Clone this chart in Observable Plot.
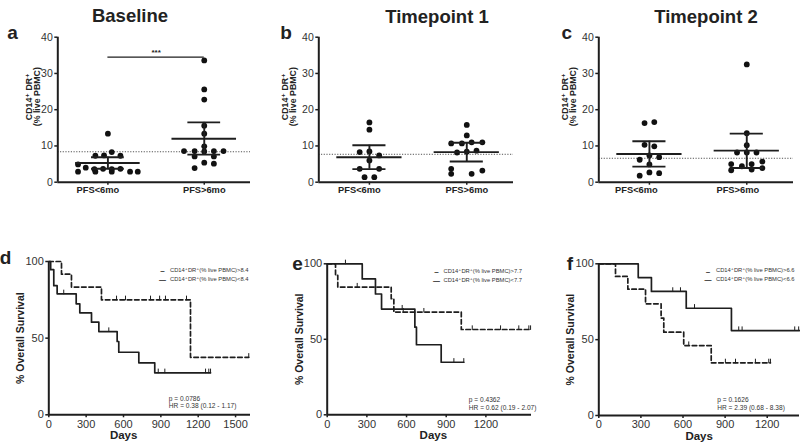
<!DOCTYPE html>
<html><head><meta charset="utf-8">
<script src="https://cdn.jsdelivr.net/npm/d3@7"></script>
<script src="https://cdn.jsdelivr.net/npm/@observablehq/plot@0.6"></script>
<style>
body{margin:0;background:#fff;}
#fig{position:relative;width:800px;height:445px;overflow:hidden;background:#fff;font-family:"Liberation Sans",Arial,"DejaVu Sans",sans-serif;color:#222;}
.panel{position:absolute;}
.lbl{position:absolute;transform:translate(-50%,-50%);line-height:1;font-weight:bold;white-space:nowrap;color:#222;}
</style></head><body><div id="fig"></div>
<script>
// ---------------- data ----------------
const groupNames = ["PFS<6mo", "PFS>6mo"];
const panelTitles = ["Baseline", "Timepoint 1", "Timepoint 2"];
const panelLetters = ["a", "b", "c", "d", "e", "f"];
const scatterYTicks = [0, 10, 20, 30, 40];
const scatterYLabel = ["CD14⁺ DR⁺", "(% live PBMC)"];
const thresholds = [8.4, 7.7, 6.6];

// Baseline
const aLowVals  = [13.4, 8.3, 7.3, 7.4, 7.3, 4.9, 4.0, 3.6, 3.7, 3.6, 3.7, 2.9, 2.9, 2.9, 2.9, 2.9];
const aLowJit   = [0, 0.04, -0.13, -0.04, 0.13, -0.31, -0.23, -0.14, -0.05, 0.04, 0.13, -0.31, -0.13, 0.04, 0.23, 0.31];
const aHighVals = [33.6, 25.6, 22.8, 15.6, 13.4, 9.9, 8.6, 8.6, 8.5, 8.6, 8.6, 7.1, 7.1, 5.4, 5.1, 3.9];
const aHighJit  = [0, 0, 0, 0, 0, 0, -0.21, -0.1, 0, 0.1, 0.2, -0.1, 0.1, 0, 0.1, -0.1];
const aMean = [5.3, 12.0], aLo = [3.7, 7.6], aHi = [6.9, 16.5];
const sigY = [34.5], sigText = ["***"];

// Timepoint 1
const bLowVals  = [16.5, 14.5, 8.3, 8.5, 7.4, 6.0, 3.7, 3.7, 1.4, 1.4];
const bLowJit   = [0, 0, -0.1, 0, 0.1, 0, -0.1, 0.1, -0.05, 0.05];
const bHighVals = [15.8, 12.9, 10.7, 10.7, 11.0, 11.0, 8.2, 8.4, 8.7, 3.7, 2.3, 2.3, 3.2];
const bHighJit  = [0, 0, -0.16, -0.05, 0.05, 0.16, -0.1, 0, 0.1, -0.16, -0.16, 0.05, 0.16];
const bMean = [6.9, 8.3], bLo = [3.6, 5.7], bHi = [10.2, 10.9];

// Timepoint 2
const cLowVals  = [16.3, 16.6, 10.3, 9.9, 7.4, 6.9, 6.2, 4.9, 1.8, 2.7, 2.5];
const cLowJit   = [-0.05, 0.05, -0.05, 0.05, 0, 0.1, -0.1, 0, -0.1, 0, 0.1];
const cHighVals = [32.5, 13.5, 10.2, 8.2, 8.2, 8.2, 5.0, 4.4, 5.0, 5.7, 3.3, 3.5, 3.9];
const cHighJit  = [0, 0, 0, -0.1, 0, 0.1, -0.16, -0.05, 0.05, 0.16, -0.16, 0.05, 0.16];
const cMean = [7.8, 8.7], cLo = [4.3, 3.9], cHi = [11.3, 13.4];

// Kaplan-Meier
const kmYTicks = [0, 50, 100];
const kmYLabel = "% Overall Survival";
const kmXLabel = "Days";
const dXTicks = [0, 300, 600, 900, 1200, 1500];
const efXTicks = [0, 300, 600, 900, 1200];

const dHiT = [0, 102, 182, 423, 1138, 1606];
const dHiS = [100, 91.7, 83.3, 75.0, 37.5, 37.5];
const dHiCT = [544, 616, 817, 890, 937, 1106, 1606];
const dHiCS = [75, 75, 75, 75, 75, 75, 37.5];
const dLoT = [0, 15, 40, 67, 220, 249, 343, 402, 549, 562, 723, 851, 1299];
const dLoS = [100, 94.7, 84.2, 78.9, 72.4, 66.5, 60.4, 54.3, 47.8, 40.8, 33.9, 27.4, 27.4];
const dLoCT = [120, 482, 879, 932, 1259, 1285, 1299];
const dLoCS = [78.9, 54.3, 27.4, 27.4, 27.4, 27.4, 27.4];
const dLegend = ["CD14⁺DR⁺(% live PBMC)>8.4", "CD14⁺DR⁺(% live PBMC)<8.4"];
const dStats = ["p = 0.0786", "HR = 0.38 (0.12 - 1.17)"];

const eHiT = [0, 63, 80, 484, 504, 1014, 1538];
const eHiS = [100, 92.3, 84.6, 76.9, 68.0, 56.5, 56.5];
const eHiCT = [227, 575, 731, 1097, 1311, 1449, 1525, 1538];
const eHiCS = [84.6, 68, 68, 56.5, 56.5, 56.5, 56.5, 56.5];
const eLoT = [0, 265, 365, 411, 663, 675, 862, 1033];
const eLoS = [100, 90, 80, 70, 58, 46.4, 34.8, 34.8];
const eLoCT = [138, 567, 958, 1033];
const eLoCS = [100, 70, 34.8, 34.8];
const eLegend = ["CD14⁺DR⁺(% live PBMC)>7.7", "CD14⁺DR⁺(% live PBMC)<7.7"];
const eStats = ["p = 0.4362", "HR = 0.62 (0.19 - 2.07)"];

const fHiT = [0, 119, 207, 333, 444, 463, 605, 801, 1223];
const fHiS = [100, 91.7, 83.3, 73.6, 64.2, 54.9, 46.1, 34.7, 34.7];
const fHiCT = [641, 902, 974, 1116, 1211, 1223];
const fHiCS = [46.1, 34.7, 34.7, 34.7, 34.7, 34.7];
const fLoT = [0, 281, 375, 623, 945, 1430];
const fLoS = [100, 90.9, 81.8, 70.7, 56.0, 56.0];
const fLoCT = [527, 582, 682, 997, 1021, 1396, 1424];
const fLoCS = [81.8, 81.8, 70.7, 56, 56, 56, 56];
const fLegend = ["CD14⁺DR⁺(% live PBMC)>6.6", "CD14⁺DR⁺(% live PBMC)<6.6"];
const fStats = ["p = 0.1626", "HR = 2.39 (0.68 - 8.38)"];

// ---------------- drawing ----------------
const FONT = '"Liberation Sans", Arial, "DejaVu Sans", sans-serif';
const INK = "#1e1e1e";
const fig = document.getElementById("fig");

function place(el, left, top) {
  const d = document.createElement("div");
  d.className = "panel";
  d.style.left = left + "px"; d.style.top = top + "px";
  d.appendChild(el); fig.appendChild(d);
}
function htmlLabel(text, cx, cy, size) {
  const d = document.createElement("div");
  d.className = "lbl"; d.textContent = text;
  d.style.left = cx + "px"; d.style.top = cy + "px"; d.style.fontSize = size + "px";
  fig.appendChild(d);
}
const svgStyle = {fontFamily: FONT, color: INK, background: "transparent", overflow: "visible"};

const XDOM = [0.48, 2.48];
function scatter(lowV, lowJ, highV, highJ, mean, lo, hi, thr, L, sig) {
  const pts = [
    ...lowV.map((v, i) => ({x: 1 + lowJ[i], v})),
    ...highV.map((v, i) => ({x: 2 + highJ[i], v}))
  ];
  const sum = [0, 1].map(g => ({g: g + 1, mean: mean[g], lo: lo[g], hi: hi[g]}));
  const cats = groupNames.map((n, i) => ({n, g: i + 1}));
  const lw = 1.9;
  const marks = [
    Plot.ruleY([thr], {stroke: "#555", strokeWidth: 1, strokeDasharray: "1.2,1.5"}),
    Plot.dot(pts, {x: "x", y: "v", r: 2.9, fill: "#111", stroke: "none"}),
    Plot.ruleY(sum, {y: "mean", x1: d => d.g - 0.335, x2: d => d.g + 0.335, stroke: INK, strokeWidth: lw}),
    Plot.ruleY(sum, {y: "hi", x1: d => d.g - 0.17, x2: d => d.g + 0.17, stroke: INK, strokeWidth: lw}),
    Plot.ruleY(sum, {y: "lo", x1: d => d.g - 0.17, x2: d => d.g + 0.17, stroke: INK, strokeWidth: lw}),
    Plot.ruleX(sum, {x: "g", y1: "lo", y2: "hi", stroke: INK, strokeWidth: lw}),
    Plot.axisY({ticks: scatterYTicks, tickSize: 3, tickPadding: 2, fontSize: 10.5, label: null, stroke: INK, strokeWidth: 1.5, fill: "#333"}),
    Plot.axisX({ticks: [1, 2], tickFormat: () => "", tickSize: 3, label: null, stroke: INK, strokeWidth: 1.5}),
    Plot.text(cats.slice(0, 1), {x: "g", text: "n", frameAnchor: "bottom", dy: 11, dx: L.cdx[0], fontSize: 9.3, fontWeight: "bold", fill: "#222"}),
    Plot.text(cats.slice(1, 2), {x: "g", text: "n", frameAnchor: "bottom", dy: 11, dx: L.cdx[1], fontSize: 9.3, fontWeight: "bold", fill: "#222"}),
    Plot.ruleX([XDOM[0]], {stroke: INK, strokeWidth: 2}),
    Plot.ruleY([0], {stroke: INK, strokeWidth: 2}),
    Plot.text([scatterYLabel[0]], {frameAnchor: "left", textAnchor: "middle", rotate: -90, dx: L.yl[0], dy: -13, fontSize: 8.8, fontWeight: "bold", fill: "#222"}),
    Plot.text([scatterYLabel[1]], {frameAnchor: "left", textAnchor: "middle", rotate: -90, dx: L.yl[1], dy: -13, fontSize: 8.8, fontWeight: "bold", fill: "#222"})
  ];
  if (sig) {
    const s = sig.y.map((y, i) => ({y, t: sig.t[i], a: 1, b: 2}));
    marks.push(Plot.ruleY(s, {y: "y", x1: "a", x2: "b", stroke: INK, strokeWidth: 1.3}));
    marks.push(Plot.text(s, {x: d => (d.a + d.b) / 2, y: "y", text: "t", dy: -5, fontSize: 8, fontWeight: "bold", fill: INK}));
  }
  return Plot.plot({
    width: L.w, height: 200,
    marginLeft: L.ml, marginRight: L.mr, marginTop: 36.7, marginBottom: 18.3,
    x: {domain: XDOM, label: null},
    y: {domain: [0, 40], label: null},
    style: svgStyle,
    marks
  });
}

function km(hiT, hiS, hiCT, hiCS, loT, loS, loCT, loCS, xmax, xticks, legend, stats, L) {
  const hi = hiT.map((t, i) => ({t, s: hiS[i]}));
  const lo = loT.map((t, i) => ({t, s: loS[i]}));
  const cens = [...hiCT.map((t, i) => ({t, s: hiCS[i]})), ...loCT.map((t, i) => ({t, s: loCS[i]}))];
  const fs = 5.8;
  const marks = [
    Plot.line(hi, {x: "t", y: "s", curve: "step-after", stroke: INK, strokeWidth: 1.7, strokeDasharray: "4.5,2.8"}),
    Plot.line(lo, {x: "t", y: "s", curve: "step-after", stroke: INK, strokeWidth: 1.7}),
    Plot.ruleX(cens, {x: "t", y1: d => d.s - 0.6, y2: d => d.s + 2.4, stroke: INK, strokeWidth: 1}),
    Plot.axisY({ticks: kmYTicks, tickSize: 3, tickPadding: 2, fontSize: 11, label: null, stroke: INK, strokeWidth: 1.5, fill: "#333"}),
    Plot.axisX({ticks: xticks, tickFormat: d => String(d), tickSize: 3, tickPadding: 2, fontSize: 11, label: null, stroke: INK, strokeWidth: 1.5, fill: "#333"}),
    Plot.ruleX([0], {stroke: INK, strokeWidth: 2}),
    Plot.ruleY([0], {stroke: INK, strokeWidth: 2}),
    Plot.text([kmYLabel], {frameAnchor: "left", textAnchor: "middle", rotate: -90, dx: -28, fontSize: 10.5, fontWeight: "bold", fill: "#222"}),
    Plot.text([kmXLabel], {frameAnchor: "bottom", textAnchor: "middle", dx: L.daysDx, dy: 24, fontSize: 11.5, fontWeight: "bold", fill: "#222"}),
    // legend
    Plot.text(["–"], {frameAnchor: "top-right", textAnchor: "middle", dx: L.mk, dy: L.leg[0], fontSize: 8, fontWeight: "bold", fill: INK}),
    Plot.text(["—"], {frameAnchor: "top-right", textAnchor: "middle", dx: L.mk, dy: L.leg[1], fontSize: 7, fontWeight: "bold", fill: INK}),
    Plot.text([legend[0]], {frameAnchor: "top-right", textAnchor: "start", dx: L.tx, dy: L.leg[0], fontSize: fs, fill: "#333"}),
    Plot.text([legend[1]], {frameAnchor: "top-right", textAnchor: "start", dx: L.tx, dy: L.leg[1], fontSize: fs, fill: "#333"}),
    // stats
    Plot.text([stats[0]], {frameAnchor: "bottom-right", textAnchor: "start", dx: L.st, dy: L.sty[0], fontSize: 6.6, fill: "#333"}),
    Plot.text([stats[1]], {frameAnchor: "bottom-right", textAnchor: "start", dx: L.st, dy: L.sty[1], fontSize: 6.6, fill: "#333"})
  ];
  return Plot.plot({
    width: L.w, height: 200,
    marginLeft: L.ml, marginRight: L.mr, marginTop: L.mt, marginBottom: L.mb,
    x: {domain: [0, xmax], label: null},
    y: {domain: [0, 100], label: null},
    style: svgStyle,
    marks
  });
}

// scatter panels
place(scatter(aLowVals, aLowJit, aHighVals, aHighJit, aMean, aLo, aHi, thresholds[0],
  {w: 265, ml: 57.3, mr: 15, yl: [-29, -21], cdx: [-10, 0]}, {y: sigY, t: sigText}), 0, 0);
place(scatter(bLowVals, bLowJit, bHighVals, bHighJit, bMean, bLo, bHi, thresholds[1],
  {w: 265, ml: 53.3, mr: 17, yl: [-34, -25.5], cdx: [-10, 0]}), 265, 0);
place(scatter(cLowVals, cLowJit, cHighVals, cHighJit, cMean, cLo, cHi, thresholds[2],
  {w: 265, ml: 63.3, mr: 7, yl: [-34, -26], cdx: [-13, -9]}), 535, 0);

// KM panels
place(km(dHiT, dHiS, dHiCT, dHiCS, dLoT, dLoS, dLoCT, dLoCS, 1620, dXTicks, dLegend, dStats,
  {w: 265, ml: 48.3, mr: 15, mt: 16, mb: 30.7, daysDx: -26, mk: -88, tx: -80.5, leg: [6, 15.5], st: -81.7, sty: [-14.3, -6.6]}), 0, 245);
place(km(eHiT, eHiS, eHiCT, eHiCS, eLoT, eLoS, eLoCT, eLoCS, 1545, efXTicks, eLegend, eStats,
  {w: 270, ml: 61.7, mr: 4, mt: 18.3, mb: 30.7, daysDx: 4, mk: -95, tx: -88, leg: [4.8, 13.8], st: -62.7, sty: [-12.6, -5]}), 265, 245);
place(km(fHiT, fHiS, fHiCT, fHiCS, fLoT, fLoS, fLoCT, fLoCS, 1430, efXTicks, fLegend, fStats,
  {w: 265, ml: 63.3, mr: 1, mt: 18.3, mb: 30, daysDx: 0, mk: -91.5, tx: -83.5, leg: [4.4, 13.4], st: -82.3, sty: [-14, -6]}), 535, 245);

// titles & panel letters
htmlLabel(panelTitles[0], 130, 16.3, 18.5);
htmlLabel(panelTitles[1], 437, 16.5, 18.5);
htmlLabel(panelTitles[2], 706, 16.5, 18.5);
const letterPos = [[12.5, 32.4], [286, 32.4], [566.7, 32.4], [5.5, 257.4], [297.5, 263.4], [570, 263.4]];
panelLetters.forEach((l, i) => htmlLabel(l, letterPos[i][0], letterPos[i][1], 19));
</script></body></html>
